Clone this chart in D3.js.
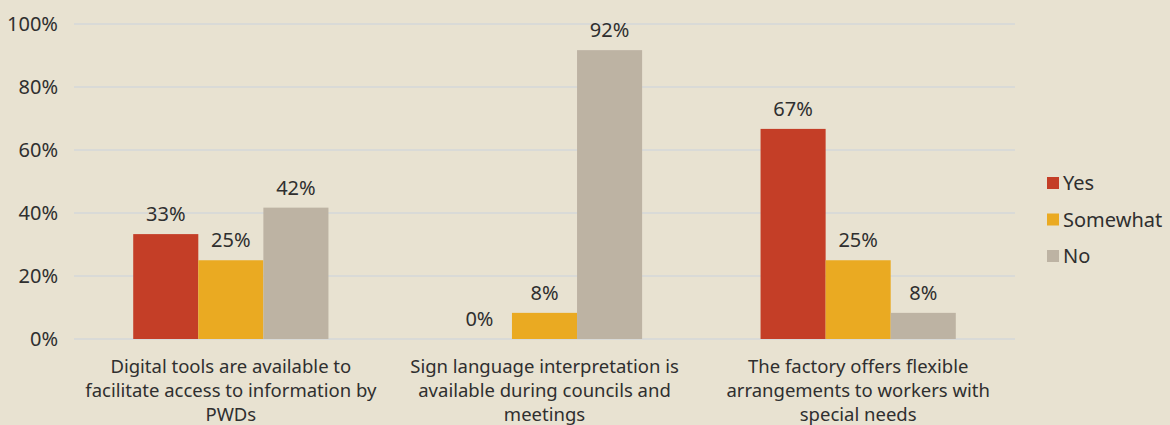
<!DOCTYPE html>
<html lang="en">
<head>
  <meta charset="UTF-8">
  <title>Accessibility survey</title>
  <script src="https://cdn.jsdelivr.net/npm/d3@7"></script>
  <style>
    body {
      margin: 0;
      overflow: hidden;
      background: #e8e2d1;
      font-family: "Noto Sans", "Open Sans", sans-serif;
    }
    .grid line { stroke: #d9dad7; stroke-width: 2; }
  </style>
</head>
<body>
  <div id="chart"></div>
  <script>
    const categories = [
      ["Digital tools are available to", "facilitate access to information by", "PWDs"],
      ["Sign language interpretation is", "available during councils and", "meetings"],
      ["The factory offers flexible", "arrangements to workers with", "special needs"]
    ];
    const seriesNames = ["Yes", "Somewhat", "No"];
    const yes = [33.3, 0, 66.7];
    const somewhat = [25, 8.3, 25];
    const no = [41.7, 91.7, 8.3];
    const yTicks = [0, 20, 40, 60, 80, 100];
    const colors = ["#c43e27", "#eaaa22", "#bdb3a3"];

    const width = 1170, height = 425;
    const margin = { left: 74, right: 155, top: 24, bottom: 86 };
    const textColor = '#2f2f2f';

    const svg = d3.select('#chart').append('svg')
      .attr('width', width)
      .attr('height', height);

    const x = d3.scaleBand()
      .domain(d3.range(categories.length))
      .range([margin.left, width - margin.right]);

    const xs = d3.scaleBand()
      .domain(seriesNames)
      .range([0, x.bandwidth()])
      .paddingOuter(0.91);

    const y = d3.scaleLinear()
      .domain([0, 100])
      .range([height - margin.bottom, margin.top]);

    // gridlines
    svg.append('g').attr('class', 'grid')
      .selectAll('line').data(yTicks).join('line')
      .attr('x1', margin.left).attr('x2', width - margin.right)
      .attr('y1', d => y(d)).attr('y2', d => y(d));

    // y axis labels
    svg.append('g')
      .selectAll('text').data(yTicks).join('text')
      .attr('x', 58).attr('y', d => y(d))
      .attr('dy', '0.35em')
      .attr('text-anchor', 'end')
      .attr('font-size', 20)
      .attr('fill', textColor)
      .text(d => d + '%');

    const series = [yes, somewhat, no];
    const bars = [];
    series.forEach((vals, si) => {
      vals.forEach((v, ci) => bars.push({ s: seriesNames[si], si, ci, v }));
    });

    svg.append('g')
      .selectAll('rect').data(bars).join('rect')
      .attr('x', d => x(d.ci) + xs(d.s))
      .attr('width', xs.bandwidth())
      .attr('y', d => y(d.v))
      .attr('height', d => y(0) - y(d.v))
      .attr('fill', d => colors[d.si]);

    svg.append('g')
      .selectAll('text').data(bars).join('text')
      .attr('x', d => x(d.ci) + xs(d.s) + xs.bandwidth() / 2)
      .attr('y', d => y(d.v) - 13)
      .attr('text-anchor', 'middle')
      .attr('font-size', 20)
      .attr('fill', textColor)
      .text(d => Math.round(d.v) + '%');

    // category labels
    const cat = svg.append('g')
      .selectAll('text').data(categories).join('text')
      .attr('text-anchor', 'middle')
      .attr('font-size', 18.5)
      .attr('fill', textColor)
      .attr('transform', (d, i) => `translate(${x(i) + x.bandwidth() / 2},0)`);
    cat.selectAll('tspan').data(d => d).join('tspan')
      .attr('x', 0)
      .attr('y', (d, i) => 373 + i * 24)
      .text(d => d);

    // legend
    const legend = svg.append('g')
      .selectAll('g').data(seriesNames).join('g')
      .attr('transform', (d, i) => `translate(1047,${183 + i * 36.5})`);
    legend.append('rect')
      .attr('x', 0).attr('y', -6)
      .attr('width', 12).attr('height', 12)
      .attr('fill', (d, i) => colors[i]);
    legend.append('text')
      .attr('x', 16).attr('dy', '0.35em')
      .attr('font-size', 20)
      .attr('fill', textColor)
      .text(d => d);
  </script>
</body>
</html>
